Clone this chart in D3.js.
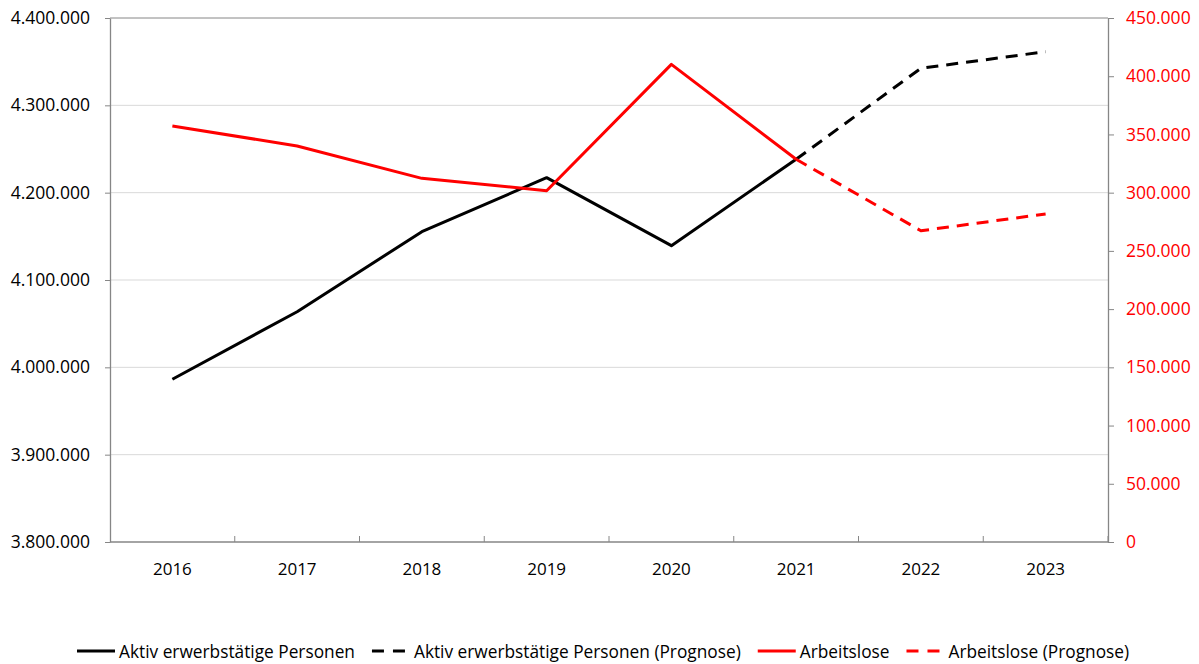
<!DOCTYPE html>
<html>
<head>
<meta charset="utf-8">
<script src="https://cdn.jsdelivr.net/npm/d3@7"></script>
<style>
  body { margin: 0; background: #fff; }
  #chart { width: 1199px; height: 664px; }
  text { font-family: 'Open Sans', sans-serif; }
</style>
</head>
<body>
<div id="chart"></div>
<script>
// data
const years = ['2016', '2017', '2018', '2019', '2020', '2021', '2022', '2023'];
const employed = [3986300, 4063700, 4155300, 4217200, 4139300, 4238200, null, null];
const employedForecast = [null, null, null, null, null, 4238200, 4342400, 4361400];
const unemployed = [357300, 340100, 312300, 301700, 410200, 328700, null, null];
const unemployedForecast = [null, null, null, null, null, 328700, 267300, 281700];
const leftTicks = [3800000, 3900000, 4000000, 4100000, 4200000, 4300000, 4400000];
const rightTicks = [0, 50000, 100000, 150000, 200000, 250000, 300000, 350000, 400000, 450000];

const series = [
  { name: 'Aktiv erwerbstätige Personen', values: employed, color: '#000', dash: null, axis: 'left' },
  { name: 'Aktiv erwerbstätige Personen (Prognose)', values: employedForecast, color: '#000', dash: '12,8', axis: 'left' },
  { name: 'Arbeitslose', values: unemployed, color: '#ff0000', dash: null, axis: 'right' },
  { name: 'Arbeitslose (Prognose)', values: unemployedForecast, color: '#ff0000', dash: '12,8', axis: 'right' }
];

const margin = { top: 18, bottom: 122, left: 110, right: 91 };
const totalW = 1199, totalH = 664;
const width = totalW - margin.left - margin.right;
const height = totalH - margin.top - margin.bottom;
const axisGray = '#868686';
const gridGray = '#d9d9d9';

const de = d3.formatLocale({ decimal: ',', thousands: '.', grouping: [3], currency: ['', ' €'] });
const fmt = de.format(',d');

const svg = d3.select('#chart').append('svg')
  .attr('width', totalW)
  .attr('height', totalH);

const chartArea = svg.append('g')
  .attr('transform', `translate(${margin.left},${margin.top})`);

const xScale = d3.scaleBand().domain(years).range([0, width]).padding(0);
const yLeft = d3.scaleLinear().domain([3800000, 4400000]).range([height, 0]);
const yRight = d3.scaleLinear().domain([0, 450000]).range([height, 0]);

// gridlines
chartArea.append('g')
  .selectAll('line')
  .data(leftTicks.slice(1, -1))
  .enter().append('line')
  .attr('x1', 0).attr('x2', width)
  .attr('y1', d => yLeft(d)).attr('y2', d => yLeft(d))
  .style('stroke', gridGray)
  .style('stroke-width', 1);

// top border
chartArea.append('line')
  .attr('x1', 0).attr('x2', width)
  .attr('y1', 0).attr('y2', 0)
  .style('stroke', axisGray);

// x axis: labels centred, ticks at band edges pointing up
const xAxisG = chartArea.append('g')
  .attr('transform', `translate(0,${height})`)
  .call(d3.axisBottom(xScale).tickSize(0).tickPadding(20.5));
xAxisG.select('.domain').remove();
xAxisG.selectAll('text')
  .style('font-size', '17px')
  .style('fill', '#000');

const edges = years.map(d => xScale(d)).concat([width]);
chartArea.append('g')
  .selectAll('line')
  .data(edges.slice(1))
  .enter().append('line')
  .attr('x1', d => d).attr('x2', d => d)
  .attr('y1', height).attr('y2', height - 6)
  .style('stroke', axisGray);
chartArea.append('line')
  .attr('x1', 0).attr('x2', width)
  .attr('y1', height).attr('y2', height)
  .style('stroke', axisGray)
  .style('stroke-width', 1.3);

// left axis
const yAxisG = chartArea.append('g')
  .call(d3.axisLeft(yLeft).tickValues(leftTicks).tickFormat(fmt).tickSizeInner(5).tickSizeOuter(0).tickPadding(15));
yAxisG.selectAll('text').style('font-size', '17.5px').style('fill', '#000');
yAxisG.selectAll('line').style('stroke', axisGray);
yAxisG.select('.domain').style('stroke', axisGray).style('stroke-width', 1.3);

// right axis
const yAxisR = chartArea.append('g')
  .attr('transform', `translate(${width},0)`)
  .call(d3.axisRight(yRight).tickValues(rightTicks).tickFormat(fmt).tickSizeInner(6).tickSizeOuter(0).tickPadding(12));
yAxisR.selectAll('text').style('font-size', '17.5px').style('fill', '#ff0000');
yAxisR.selectAll('line').style('stroke', axisGray);
yAxisR.select('.domain').style('stroke', axisGray).style('stroke-width', 1.3);

// lines
const cx = d => xScale(d) + xScale.bandwidth() / 2;
series.forEach(s => {
  const yS = s.axis === 'left' ? yLeft : yRight;
  const line = d3.line()
    .defined(d => d[1] !== null)
    .x(d => cx(d[0]))
    .y(d => yS(d[1]));
  chartArea.append('path')
    .datum(years.map((y, i) => [y, s.values[i]]))
    .attr('d', line)
    .style('fill', 'none')
    .style('stroke', s.color)
    .style('stroke-width', 3)
    .style('stroke-linejoin', 'round')
    .style('stroke-dasharray', s.dash);
});

// legend
const legend = svg.append('g').attr('transform', 'translate(77,651)');
let lx = 0;
series.forEach(s => {
  const item = legend.append('g').attr('transform', `translate(${lx},0)`);
  item.append('line')
    .attr('x1', 0).attr('x2', 38)
    .attr('y1', 0).attr('y2', 0)
    .style('stroke', s.color)
    .style('stroke-width', 3)
    .style('stroke-dasharray', s.dash ? '12,9' : null);
  const t = item.append('text')
    .attr('x', 42)
    .attr('y', 7)
    .style('font-size', '17.3px')
    .style('fill', '#000')
    .text(s.name);
  lx += 42 + t.node().getComputedTextLength() + 17;
});
</script>
</body>
</html>
